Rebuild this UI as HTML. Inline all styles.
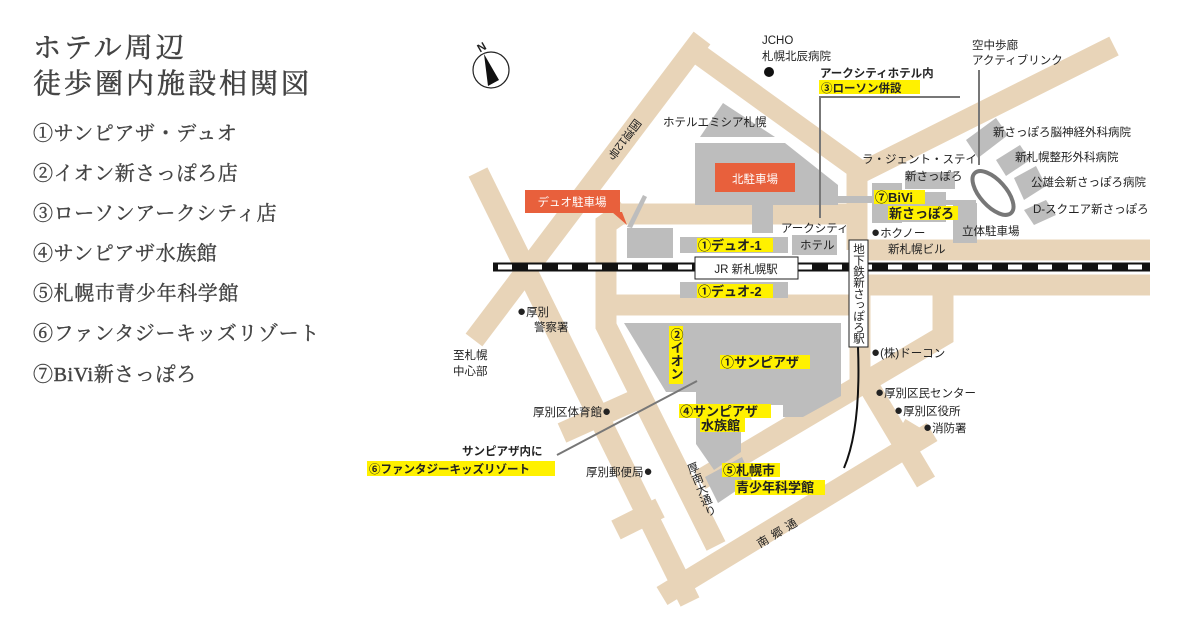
<!DOCTYPE html>
<html><head><meta charset="utf-8"><style>
html,body{margin:0;padding:0;background:#fff;}
svg{display:block;}
.t{font-family:"Liberation Serif","Noto Serif CJK JP",serif;fill:#444;}
.m{font-family:"Liberation Sans","Noto Sans CJK JP",sans-serif;font-size:11.5px;fill:#222;}
.b{font-weight:bold;}
.d{font-size:15px;}
</style></head><body>
<svg width="1200" height="623" viewBox="0 0 1200 623" xmlns="http://www.w3.org/2000/svg">
<rect width="1200" height="623" fill="#fff"/>
<text class="t" x="33" y="57" font-size="28" letter-spacing="3" stroke="#444" stroke-width="0.5">ホテル周辺</text>
<text class="t" x="33" y="93" font-size="28" letter-spacing="3" stroke="#444" stroke-width="0.5">徒歩圏内施設相関図</text>
<g class="t" font-size="20" letter-spacing="0.6" stroke="#444" stroke-width="0.4">
<text x="33" y="140">①サンピアザ・デュオ</text>
<text x="33" y="180">②イオン新さっぽろ店</text>
<text x="33" y="220">③ローソンアークシティ店</text>
<text x="33" y="260">④サンピアザ水族館</text>
<text x="33" y="300">⑤札幌市青少年科学館</text>
<text x="33" y="340">⑥ファンタジーキッズリゾート</text>
<text x="33" y="381">⑦BiVi新さっぽろ</text>
</g>

<g stroke="#e8d4b8" stroke-width="21" fill="none" stroke-linecap="butt" stroke-linejoin="miter">
<line x1="702" y1="38" x2="474" y2="340"/>
<line x1="478" y1="172" x2="690" y2="602"/>
<polyline points="690,48 862,172 1114,46"/>
<line x1="857" y1="168" x2="857" y2="250"/>
<line x1="612" y1="214" x2="857" y2="214"/>
<polyline points="626,210 606,224 606,326 716,546"/>
<line x1="606" y1="305" x2="862" y2="305"/>
<line x1="850" y1="250" x2="1150" y2="250"/>
<line x1="858" y1="285" x2="1150" y2="285"/>
<line x1="860" y1="280" x2="860" y2="385"/>
<polyline points="943,282 943,336 700,480"/>
<line x1="864" y1="378" x2="926" y2="482"/>
<line x1="662" y1="596" x2="932" y2="432"/>
<line x1="562" y1="433" x2="640" y2="398"/>
<line x1="616" y1="530" x2="660" y2="508"/>
<line x1="900" y1="428" x2="920" y2="440"/>
</g>
<g fill="#bdbdbd">
<polygon points="700,137 723,103 775,137"/>
<polygon points="695,143 785,143 838,185 838,205 773,205 773,233 752,233 752,205 695,205"/>
<rect x="838" y="196" width="34" height="7"/>
<polygon points="627,227 643,195 647,197 632,228"/>
<rect x="627" y="228" width="46" height="30"/>
<rect x="680" y="237" width="108" height="16"/>
<rect x="680" y="282" width="108" height="16"/>
<rect x="792" y="235" width="45" height="20"/>
<rect x="872" y="183" width="30" height="40"/>
<rect x="902" y="192" width="44" height="30"/>
<rect x="905" y="172" width="50" height="17"/>
<rect x="946" y="200" width="30" height="5"/>
<rect x="953" y="203" width="24" height="40"/>
<polygon points="966,140 996,118 1008,135 978,158"/>
<polygon points="996,160 1020,145 1030,160 1006,176"/>
<polygon points="1014,178 1036,166 1046,186 1024,200"/>
<polygon points="1024,210 1046,200 1056,215 1034,225"/>
<polygon points="624,323 841,323 841,396 803,417 783,417 783,405 741,405 741,452 714,470 696,444 696,392 666,392"/>
<polygon points="705,477 742,457 752,480 718,503"/>
</g>
<ellipse cx="993" cy="193" rx="27" ry="13" transform="rotate(48 993 193)" fill="none" stroke="#777" stroke-width="4"/>
<line x1="493" y1="267" x2="1150" y2="267" stroke="#111" stroke-width="9"/>
<line x1="498" y1="267" x2="1150" y2="267" stroke="#fff" stroke-width="5" stroke-dasharray="14 16"/>
<g stroke="#777" stroke-width="2" fill="none">
<polyline points="820,218 820,97 960,97"/>
<line x1="979" y1="70" x2="979" y2="165"/>
<line x1="557" y1="455" x2="697" y2="381"/>
</g>
<path d="M858,347 C860,400 856,440 844,468" stroke="#111" stroke-width="2" fill="none"/>
<circle cx="491" cy="70" r="18" fill="#fff" stroke="#222" stroke-width="1.2"/>
<polygon points="484,54 499,80 488,86" fill="#111"/>
<text x="478" y="51" class="m b" font-size="10" transform="rotate(-30 482 48)">N</text>
<rect x="715" y="163" width="80" height="29" fill="#e8603c"/>
<text x="755" y="183" class="m" font-size="14" text-anchor="middle" style="fill:#fff">北駐車場</text>
<rect x="525" y="190" width="95" height="23" fill="#e8603c"/>
<polygon points="612,212 622,212 627,225" fill="#e8603c"/>
<text x="572" y="206" class="m" font-size="13" style="fill:#fff" text-anchor="middle">デュオ駐車場</text>
<rect x="695" y="257" width="103" height="22" fill="#fff" stroke="#222" stroke-width="1"/>
<text x="746" y="273" class="m" font-size="14" text-anchor="middle">JR 新札幌駅</text>
<rect x="849" y="240" width="19" height="107" fill="#fff" stroke="#222" stroke-width="1"/>
<text x="858" y="243" class="m" font-size="11" style="writing-mode:vertical-rl" letter-spacing="-0.3">地下鉄新さっぽろ駅</text>
<g fill="#fff100">
<rect x="819" y="80" width="101" height="14"/>
<rect x="874" y="190" width="51" height="14"/>
<rect x="888" y="206" width="70" height="14"/>
<rect x="697" y="238" width="76" height="14"/>
<rect x="697" y="284" width="76" height="14"/>
<rect x="669" y="326" width="14" height="58"/>
<rect x="720" y="355" width="90" height="14"/>
<rect x="679" y="404" width="92" height="14"/>
<rect x="700" y="418" width="45" height="14"/>
<rect x="367" y="461" width="188" height="15"/>
<rect x="722" y="463" width="58" height="14"/>
<rect x="735" y="480" width="90" height="15"/>
</g>
<g class="m">
<text x="762" y="44">JCHO</text>
<text x="762" y="60">札幌北辰病院</text>
<circle cx="769" cy="72" r="5" fill="#111"/>
<text x="820" y="77" class="b">アークシティホテル内</text>
<text x="821" y="92" class="b">③ローソン併設</text>
<text x="972" y="49">空中歩廊</text>
<text x="972" y="64">アクティブリンク</text>
<text x="663" y="126">ホテルエミシア札幌</text>
<text x="632" y="118" transform="rotate(37 632 128)" style="writing-mode:vertical-rl">国道12号</text>
<text x="862" y="163">ラ・ジェント・ステイ</text>
<text x="905" y="180">新さっぽろ</text>
<text x="993" y="136">新さっぽろ脳神経外科病院</text>
<text x="1015" y="161">新札幌整形外科病院</text>
<text x="1031" y="186">公雄会新さっぽろ病院</text>
<text x="1033" y="213">D-スクエア新さっぽろ</text>
<text x="962" y="235">立体駐車場</text>
<text x="875" y="202" class="b" font-size="13">⑦BiVi</text>
<text x="889" y="218" class="b" font-size="13">新さっぽろ</text>
<text x="871" y="237"><tspan class="d">●</tspan>ホクノー</text>
<text x="888" y="253">新札幌ビル</text>
<text x="781" y="232">アークシティ</text>
<text x="800" y="249">ホテル</text>
<text x="698" y="250" class="b" font-size="13">①デュオ-1</text>
<text x="698" y="296" class="b" font-size="13">①デュオ-2</text>
<text x="517" y="316"><tspan class="d">●</tspan>厚別</text>
<text x="534" y="331">警察署</text>
<text x="453" y="359">至札幌</text>
<text x="453" y="375">中心部</text>
<text x="676" y="328" class="b" font-size="13" style="writing-mode:vertical-rl">②イオン</text>
<text x="721" y="367" class="b" font-size="13">①サンピアザ</text>
<text x="680" y="416" class="b" font-size="13">④サンピアザ</text>
<text x="701" y="430" class="b" font-size="13">水族館</text>
<text x="533" y="416">厚別区体育館<tspan class="d">●</tspan></text>
<text x="462" y="455" class="b">サンピアザ内に</text>
<text x="369" y="473" class="b">⑥ファンタジーキッズリゾート</text>
<text x="586" y="476">厚別郵便局<tspan class="d">●</tspan></text>
<text x="690" y="463" transform="rotate(-22 690 463)" style="writing-mode:vertical-rl">厚南大通り</text>
<text x="723" y="475" class="b" font-size="13">⑤札幌市</text>
<text x="736" y="492" class="b" font-size="13">青少年科学館</text>
<text x="760" y="548" transform="rotate(-31 760 548)" letter-spacing="5">南郷通</text>
<text x="871" y="357"><tspan class="d">●</tspan>(株)ドーコン</text>
<text x="875" y="397"><tspan class="d">●</tspan>厚別区民センター</text>
<text x="894" y="415"><tspan class="d">●</tspan>厚別区役所</text>
<text x="923" y="432"><tspan class="d">●</tspan>消防署</text>
</g>
</svg>
</body></html>
